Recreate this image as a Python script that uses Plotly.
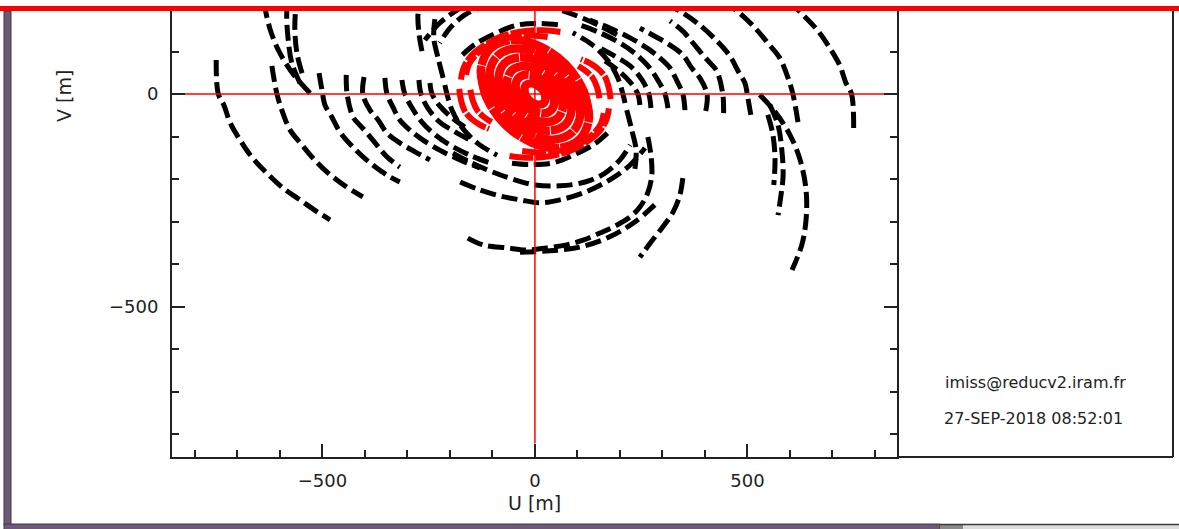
import plotly.graph_objects as go

# ---------------------------------------------------------------------------
# UV tracks (metres).  Only the v <= 0 half of each track is listed; the
# Hermitian conjugate (-u, -v) is drawn as well.
# ---------------------------------------------------------------------------

# extended configuration: long baselines, west family
ext_w1_u = [-750, -745, -731, -718, -694, -668, -631, -593, -553, -511, -482]
ext_w1_v = [80, 0, -28, -66, -108, -146, -186, -221, -249, -278, -296]
ext_w2_u = [-619, -607, -593, -576, -548, -522, -489, -447, -405]
ext_w2_v = [66, 0, -45, -85, -120, -151, -184, -216, -242]
ext_w3_u = [-508, -501, -494, -478, -459, -428, -388, -348, -318]
ext_w3_v = [49, 9, -26, -54, -89, -125, -162, -191, -207]
ext_w4_u = [-444, -442, -428, -412, -395, -372, -348, -318]
ext_w4_v = [45, 0, -54, -73, -92, -120, -148, -172]
ext_w5_u = [-402, -405, -388, -369, -348, -318, -282, -247]
ext_w5_v = [40, 0, -38, -61, -92, -115, -136, -155]
ext_w6_u = [-353, -348, -334, -318, -294, -264, -224, -176, -129]
ext_w6_v = [38, 0, -31, -61, -85, -108, -132, -155, -174]
ext_w7_u = [-313, -306, -289, -266, -235, -200, -153, -106]
ext_w7_v = [33, 0, -33, -66, -96, -120, -144, -162]
ext_w8_u = [-273, -268, -252, -224, -188, -153]
ext_w8_v = [33, 0, -33, -66, -89, -108]
ext_w9_u = [-247, -242, -224, -195, -165]
ext_w9_v = [26, 0, -28, -56, -78]
ext_w10_u = [-212, -207, -195, -172, -136, -89]
ext_w10_v = [21, 0, -38, -78, -115, -144]

# extended configuration: southern arcs
ext_s1_u = [-193, -153, -106, -59, 0, 59, 118, 165, 200, 224]
ext_s1_v = [-139, -160, -181, -198, -214, -216, -207, -186, -155, -120]
ext_s2_u = [-176, -129, -82, -35, 12, 59, 118, 176, 224, 259]
ext_s2_v = [-207, -226, -240, -249, -256, -249, -231, -202, -167, -127]
ext_s3_u = [-54, -12, 42, 94, 141, 176]
ext_s3_v = [-163, -166, -162, -142, -117, -87]
ext_s4_u = [-158, -122, -66, -19, 28, 75, 113, 153, 184, 224, 247, 266, 275, 273, 264]
ext_s4_v = [-339, -355, -362, -367, -362, -355, -344, -327, -313, -289, -266, -231, -191, -144, -92]
ext_s5_u = [-35, 35, 106, 176, 235, 282]
ext_s5_v = [-372, -369, -360, -336, -301, -261]
ext_s6_u = [348, 341, 325, 299, 271, 247]
ext_s6_v = [-198, -238, -278, -315, -351, -384]

# extended configuration: eastern arcs
ext_e1_u = [216, 228, 238, 235]
ext_e1_v = [-38, -85, -132, -179]
ext_e3_u = [529, 565, 600, 624, 638, 638, 628, 605]
ext_e3_v = [-2, -42, -96, -155, -226, -296, -355, -414]
ext_e4_u = [553, 572, 581, 584, 579, 572]
ext_e4_v = [-26, -73, -132, -191, -238, -285]
ext_e5_u = [548, 560, 565, 562]
ext_e5_v = [-49, -96, -155, -214]

# compact configuration: short baselines filling the centre
cmp_b1_u = [-127, -114, -71, -8, 57, 106, 127, 114]
cmp_b1_v = [57, -8, -71, -114, -127, -106, -57, 8]
cmp_b2_u = [-107, -96, -59, -7, 47, 89, 107, 96]
cmp_b2_v = [47, -7, -59, -96, -107, -89, -47, 7]
cmp_b3_u = [-86, -78, -48, -6, 38, 72, 86, 78]
cmp_b3_v = [38, -6, -48, -78, -86, -72, -38, 6]
cmp_b4_u = [-66, -59, -37, -4, 29, 55, 66, 59]
cmp_b4_v = [29, -4, -37, -59, -66, -55, -29, 4]
cmp_b5_u = [-46, -41, -25, -3, 20, 38, 46, 41]
cmp_b5_v = [20, -3, -25, -41, -46, -38, -20, 3]
cmp_b6_u = [-25, -23, -14, -2, 11, 21, 25, 23]
cmp_b6_v = [11, -2, -14, -23, -25, -21, -11, 2]
# compact configuration: longer arcs reaching out of the core
cmp_l1_u = [-60, -20, 30, 80, 120, 150, 168, 174]
cmp_l1_v = [-146, -150, -147, -135, -114, -90, -61, -34]
cmp_l2_u = [-30, 20, 65, 105, 135, 155, 162]
cmp_l2_v = [-134, -138, -132, -117, -96, -70, -45]
cmp_l3_u = [-178, -174, -165, -150, -130, -108]
cmp_l3_v = [12, -14, -40, -58, -72, -82]
cmp_l4_u = [-152, -146, -136, -120, -102]
cmp_l4_v = [10, -16, -38, -54, -66]

extended = [
    (ext_w1_u, ext_w1_v), (ext_w2_u, ext_w2_v), (ext_w3_u, ext_w3_v),
    (ext_w4_u, ext_w4_v), (ext_w5_u, ext_w5_v), (ext_w6_u, ext_w6_v),
    (ext_w7_u, ext_w7_v), (ext_w8_u, ext_w8_v), (ext_w9_u, ext_w9_v),
    (ext_w10_u, ext_w10_v),
    (ext_s1_u, ext_s1_v), (ext_s2_u, ext_s2_v), (ext_s3_u, ext_s3_v),
    (ext_s4_u, ext_s4_v), (ext_s5_u, ext_s5_v), (ext_s6_u, ext_s6_v),
    (ext_e1_u, ext_e1_v), (ext_e3_u, ext_e3_v),
    (ext_e4_u, ext_e4_v), (ext_e5_u, ext_e5_v),
]
compact_core = [
    (cmp_b1_u, cmp_b1_v), (cmp_b2_u, cmp_b2_v), (cmp_b3_u, cmp_b3_v),
    (cmp_b4_u, cmp_b4_v), (cmp_b5_u, cmp_b5_v), (cmp_b6_u, cmp_b6_v),
]
compact_arms = [
    (cmp_l1_u, cmp_l1_v), (cmp_l2_u, cmp_l2_v),
    (cmp_l3_u, cmp_l3_v), (cmp_l4_u, cmp_l4_v),
]

tick_values = [-500, 0, 500]
tick_text = ["\u2212500", "0", "500"]
user_label = "imiss@reducv2.iram.fr"
date_label = "27-SEP-2018 08:52:01"

# ---------------------------------------------------------------------------
W, H = 1179, 529
PL, PR, PT, PB = 172, 897, 11, 457       # plot frame (pixels)


def px(x):
    return (x - PL) / (PR - PL)


def py(y):
    return (PB - y) / (PB - PT)


fig = go.Figure()


def add_track(u, v, color, width, dash):
    for su, sv in ((u, v), ([-a for a in u], [-b for b in v])):
        fig.add_trace(go.Scatter(
            x=su, y=sv, mode="lines", hoverinfo="skip", showlegend=False,
            line=dict(color=color, width=width, dash=dash, shape="spline"),
        ))


for u, v in extended:
    add_track(u, v, "black", 5, "16px,6px")
for u, v in compact_core:
    add_track(u, v, "#ff0000", 8.5, "40px,1px")
for u, v in compact_arms:
    add_track(u, v, "#ff0000", 6, "24px,2px")

# cross hair through the origin
fig.add_trace(go.Scatter(x=[-826, 826], y=[0, 0], mode="lines", hoverinfo="skip",
                         showlegend=False, line=dict(color="#ff0000", width=1.5)))
fig.add_trace(go.Scatter(x=[0, 0], y=[-822, 826], mode="lines", hoverinfo="skip",
                         showlegend=False, line=dict(color="#ff0000", width=1.5)))

axis_common = dict(
    showgrid=False, zeroline=False, showline=True, linewidth=2, linecolor="#222",
    ticks="inside", ticklen=13, tickwidth=1.5, tickcolor="#222",
    tickmode="array", tickvals=tick_values, ticktext=tick_text,
    tickfont=dict(family="DejaVu Sans", size=18, color="#222"),
    minor=dict(ticks="inside", ticklen=7, tickwidth=1.5, tickcolor="#222",
               tickmode="linear", tick0=0, dtick=100),
)

fig.update_xaxes(range=[-854, 852], mirror=False, ticklabelstandoff=6, **axis_common)
fig.update_yaxes(range=[-854, 195.3], mirror="ticks", ticklabelstandoff=8, **axis_common)

shapes = []
# info panel to the right of the plot
shapes.append(dict(type="line", xref="paper", yref="paper", x0=px(897), x1=px(1173),
                   y0=py(457), y1=py(457), line=dict(color="#222", width=2)))
shapes.append(dict(type="line", xref="paper", yref="paper", x0=px(1173), x1=px(1173),
                   y0=py(457), y1=py(PT), line=dict(color="#222", width=2)))
# window frame
shapes.append(dict(type="rect", xref="paper", yref="paper", x0=px(4), x1=px(11),
                   y0=py(525), y1=py(PT), fillcolor="#6f5879",
                   line=dict(color="#3a3a3a", width=1)))
shapes.append(dict(type="rect", xref="paper", yref="paper", x0=px(4), x1=px(940),
                   y0=py(529.5), y1=py(524), fillcolor="#6f5879",
                   line=dict(color="#3a3a3a", width=1)))
shapes.append(dict(type="rect", xref="paper", yref="paper", x0=px(940), x1=px(963),
                   y0=py(529.5), y1=py(524), fillcolor="#8a8a8a", line=dict(width=0)))
shapes.append(dict(type="rect", xref="paper", yref="paper", x0=px(963), x1=px(1180),
                   y0=py(529.5), y1=py(525), fillcolor="#dcdcdc", line=dict(width=0)))
shapes.append(dict(type="line", xref="paper", yref="paper", x0=px(940), x1=px(1180),
                   y0=py(524.5), y1=py(524.5), line=dict(color="#3a3a3a", width=1.5)))
# red bar along the top edge
shapes.append(dict(type="rect", xref="paper", yref="paper", x0=px(-2), x1=px(1182),
                   y0=py(11), y1=py(6), fillcolor="#ff0000", line=dict(width=0)))

annotations = [
    dict(text="U [m]", xref="paper", yref="paper", x=px(534), y=py(503),
         showarrow=False, xanchor="center", yanchor="middle",
         font=dict(family="DejaVu Sans", size=19, color="#222")),
    dict(text="V [m]", xref="paper", yref="paper", x=px(64), y=py(96),
         showarrow=False, xanchor="center", yanchor="middle", textangle=-90,
         font=dict(family="DejaVu Sans", size=19, color="#222")),
    dict(text=user_label, xref="paper", yref="paper", x=px(1035), y=py(382),
         showarrow=False, xanchor="center", yanchor="middle",
         font=dict(family="DejaVu Sans", size=16, color="#222")),
    dict(text=date_label, xref="paper", yref="paper", x=px(1033), y=py(418),
         showarrow=False, xanchor="center", yanchor="middle",
         font=dict(family="DejaVu Sans", size=16, color="#222")),
]

fig.update_layout(
    width=W, height=H, autosize=False,
    margin=dict(l=PL, r=W - PR, t=PT, b=H - PB, pad=0),
    paper_bgcolor="white", plot_bgcolor="white",
    shapes=shapes, annotations=annotations,
)

fig.write_html("out.html")
